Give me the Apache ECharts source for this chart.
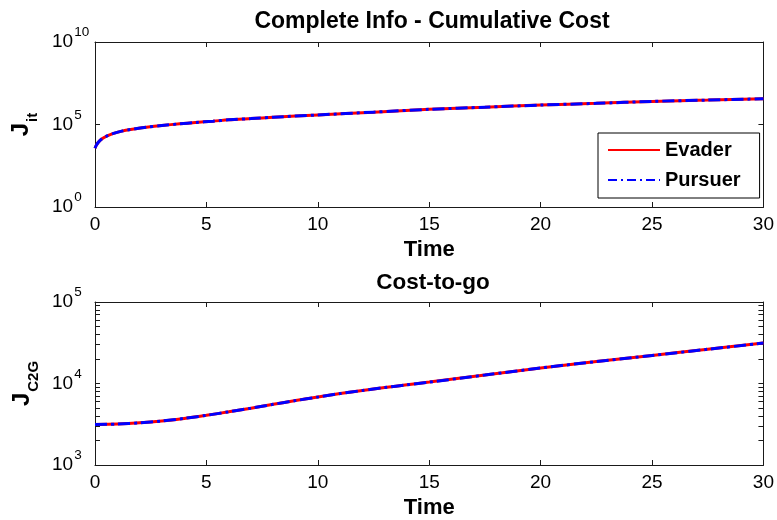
<!DOCTYPE html>
<html>
<head>
<meta charset="utf-8">
<script src="https://cdn.jsdelivr.net/npm/echarts@6/dist/echarts.min.js"></script>
<style>
  html, body { margin: 0; padding: 0; background: #fff; }
  #chart { width: 777px; height: 520px; }
</style>
</head>
<body>
<div id="chart"></div>
<script>
// Cumulative cost (upper panel)
const timeTop = [0, 0.05, 0.15, 0.3, 0.5, 0.8, 1.2, 1.6, 2.3, 3, 3.8, 4.5, 5.3, 6, 7, 8, 10, 12.5, 15, 17.5, 20, 22.5, 25, 27.5, 30];
const evaderCost = [3630, 5250, 8320, 13200, 19100, 28200, 39800, 50100, 67600, 87100, 110000, 132000, 158000, 191000, 229000, 275000, 380000, 562000, 832000, 1120000, 1510000, 1910000, 2510000, 3020000, 3630000];
const pursuerCost = [3630, 5250, 8320, 13200, 19100, 28200, 39800, 50100, 67600, 87100, 110000, 132000, 158000, 191000, 229000, 275000, 380000, 562000, 832000, 1120000, 1510000, 1910000, 2510000, 3020000, 3630000];

// Cost-to-go (lower panel)
const timeBottom = [0, 1, 2, 3, 4, 5, 6, 7, 8, 9, 10, 11, 12, 13, 14, 15, 17.5, 20, 22.5, 25, 27.5, 30];
const evaderC2G = [3140, 3180, 3290, 3470, 3730, 4070, 4490, 4980, 5550, 6170, 6820, 7520, 8200, 8910, 9640, 10400, 12700, 15500, 18600, 22100, 26300, 31300];
const pursuerC2G = [3140, 3180, 3290, 3470, 3730, 4070, 4490, 4980, 5550, 6170, 6820, 7520, 8200, 8910, 9640, 10400, 12700, 15500, 18600, 22100, 26300, 31300];

const seriesNames = ['Evader', 'Pursuer'];
const titles = ['Complete Info - Cumulative Cost', 'Cost-to-go'];
const xTitle = 'Time';
const c2gTicks = [1000, 2000, 3000, 4000, 5000, 6000, 7000, 8000, 9000,
                  10000, 20000, 30000, 40000, 50000, 60000, 70000, 80000, 90000, 100000];

const FONT = '"Liberation Sans", Arial, Helvetica, sans-serif';
const AX = '#1a1a1a';
const RED = '#ff0000';
const BLUE = '#0000ff';
const DASHDOT = [12, 4, 3, 4];

function pairs(xs, ys) { return xs.map((x, i) => [x, ys[i]]); }

// "10" with a raised exponent
function powLabel(v) {
  const e = Math.round(Math.log10(v));
  return '{b|10}{s|' + e + '}';
}
const powRich = {
  b: { fontFamily: FONT, fontSize: 19, color: '#000', lineHeight: 22 },
  s: { fontFamily: FONT, fontSize: 13.5, color: '#000', lineHeight: 33, verticalAlign: 'top', padding: [0, 0, 0, 1] }
};

function boxLine() {
  return { show: true, onZero: false, lineStyle: { color: AX, width: 1 } };
}
function boxTick(values) {
  const t = { show: true, inside: true, length: 5, lineStyle: { color: AX, width: 1 } };
  if (values) t.customValues = values.slice();
  return t;
}

function xAxes(gridIndex) {
  return [
    {
      type: 'value', gridIndex, min: 0, max: 30, interval: 5, position: 'bottom',
      name: xTitle, nameLocation: 'middle', nameGap: 32,
      nameTextStyle: { fontFamily: FONT, fontSize: 22, fontWeight: 'bold', color: '#000' },
      axisLine: boxLine(),
      axisTick: boxTick(null),
      axisLabel: { show: true, margin: 8, fontFamily: FONT, fontSize: 19, color: '#000' },
      splitLine: { show: false }
    },
    {
      type: 'value', gridIndex, min: 0, max: 30, interval: 5, position: 'top',
      axisLine: boxLine(),
      axisTick: boxTick(null),
      axisLabel: { show: false },
      splitLine: { show: false }
    }
  ];
}

function yAxes(gridIndex, min, max, interval, name, nameGap, tickValues) {
  return [
    {
      type: 'log', logBase: 10, gridIndex, min, max, interval, position: 'left',
      name, nameLocation: 'middle', nameRotate: 90, nameGap,
      nameTextStyle: {
        rich: {
          j: { fontFamily: FONT, fontSize: 24, fontWeight: 'bold', color: '#000', lineHeight: 24 },
          k: { fontFamily: FONT, fontSize: 15, fontWeight: 'bold', color: '#000', lineHeight: 38, verticalAlign: 'bottom', padding: [0, 0, 0, 1] }
        }
      },
      axisLine: boxLine(),
      axisTick: boxTick(tickValues),
      axisLabel: { show: true, align: 'left', margin: 43, formatter: powLabel, rich: powRich },
      splitLine: { show: false }
    },
    {
      type: 'log', logBase: 10, gridIndex, min, max, interval, position: 'right',
      axisLine: boxLine(),
      axisTick: boxTick(tickValues),
      axisLabel: { show: false },
      splitLine: { show: false }
    }
  ];
}

function lineSeries(name, xAxisIndex, yAxisIndex, data, color, dash, z) {
  return {
    name, type: 'line', xAxisIndex, yAxisIndex,
    data, showSymbol: false, symbol: 'none', smooth: 0.3, z,
    lineStyle: { color, width: 3, type: dash },
    itemStyle: { color },
    emphasis: { disabled: true }
  };
}

const hiddenMarker = { color: 'rgba(0,0,0,0)', borderWidth: 0, opacity: 0 };

const chart = echarts.init(document.getElementById('chart'), null, { renderer: 'canvas' });

chart.setOption({
  backgroundColor: '#ffffff',
  animation: false,
  title: [
    { text: titles[0], left: 427, top: 5, textAlign: 'center',
      textStyle: { fontFamily: FONT, fontSize: 23, fontWeight: 'bold', color: '#000' } },
    { text: titles[1], left: 428, top: 266, textAlign: 'center',
      textStyle: { fontFamily: FONT, fontSize: 22.5, fontWeight: 'bold', color: '#000' } }
  ],
  grid: [
    { left: 95, top: 42, width: 670, height: 165, show: false },
    { left: 95, top: 302, width: 670, height: 165, show: false }
  ],
  xAxis: [].concat(xAxes(0), xAxes(1)),
  yAxis: [].concat(
    yAxes(0, 1, 1e10, 5, '{j|J}{k|it}', 55, null),
    yAxes(1, 1000, 100000, 1, '{j|J}{k|C2G}', 50, c2gTicks)
  ),
  legend: {
    orient: 'vertical',
    left: 598, top: 133,
    padding: [6, 19, 7, 9],
    itemWidth: 52, itemHeight: 14, itemGap: 8, itemTextGap: 5,
    backgroundColor: '#ffffff',
    borderColor: '#000', borderWidth: 1, borderRadius: 0,
    selectedMode: false,
    textStyle: { fontFamily: FONT, fontSize: 20, fontWeight: 'bold', color: '#000', lineHeight: 22 },
    data: [
      { name: seriesNames[0], itemStyle: hiddenMarker, lineStyle: { color: RED, width: 2, type: 'solid' } },
      { name: seriesNames[1], itemStyle: hiddenMarker, lineStyle: { color: BLUE, width: 2, type: [9, 4, 2, 4] } }
    ]
  },
  series: [
    lineSeries(seriesNames[0], 0, 0, pairs(timeTop, evaderCost), RED, 'solid', 2),
    lineSeries(seriesNames[1], 0, 0, pairs(timeTop, pursuerCost), BLUE, DASHDOT, 3),
    lineSeries(seriesNames[0], 2, 2, pairs(timeBottom, evaderC2G), RED, 'solid', 2),
    lineSeries(seriesNames[1], 2, 2, pairs(timeBottom, pursuerC2G), BLUE, DASHDOT, 3)
  ]
});
</script>
</body>
</html>
